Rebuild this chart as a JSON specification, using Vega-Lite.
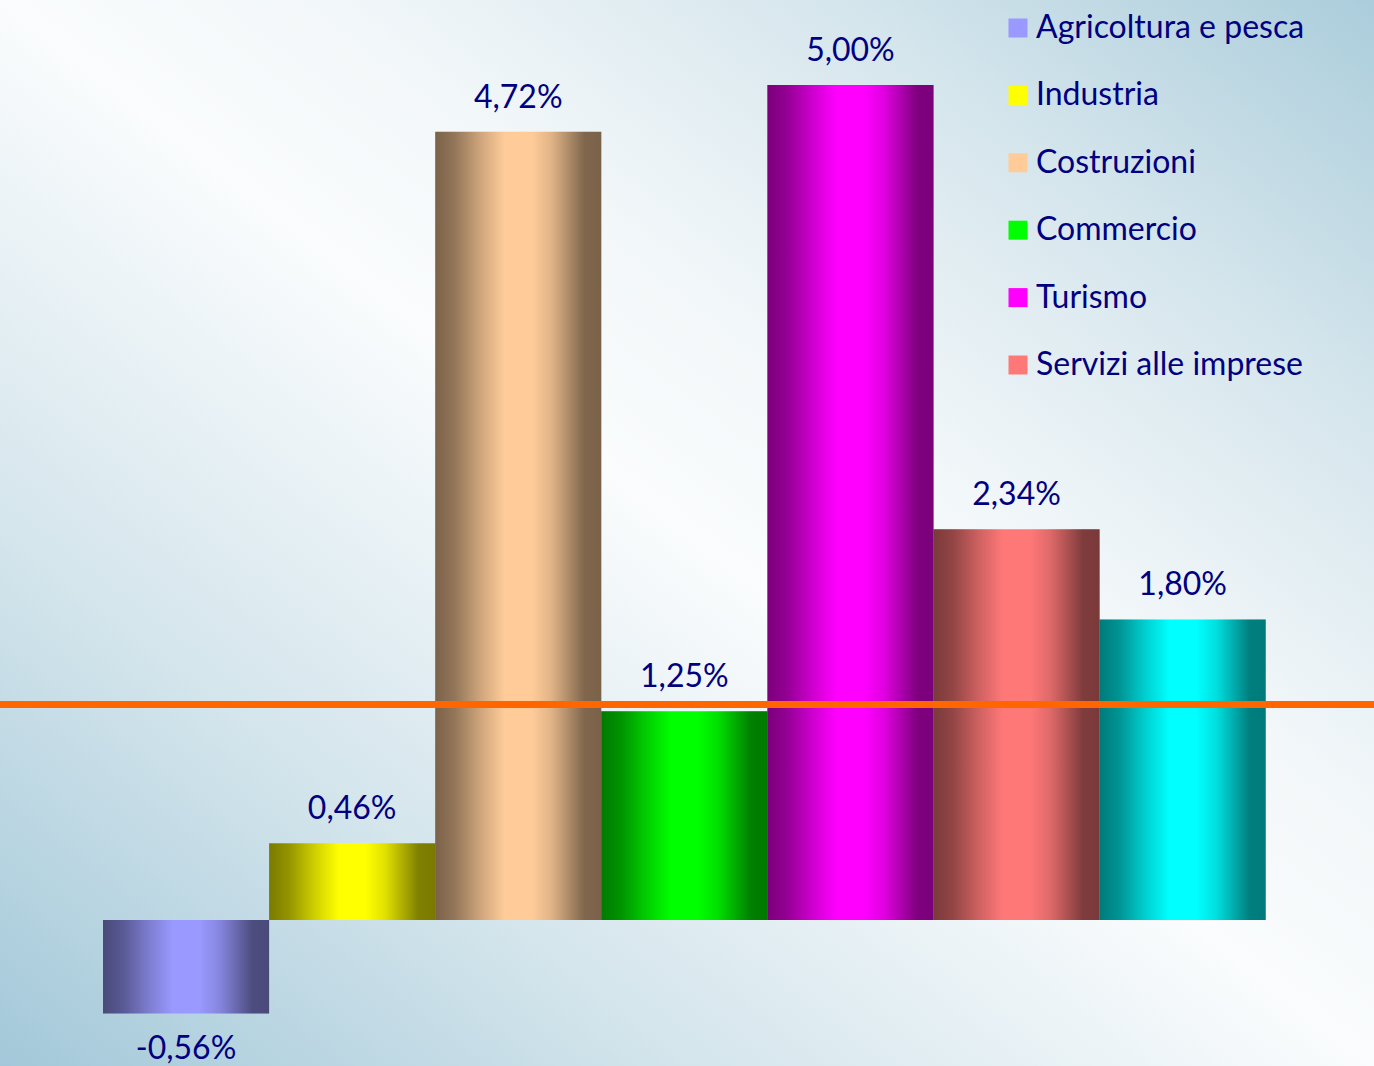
{
  "$schema": "https://vega.github.io/schema/vega-lite/v6.json",
  "width": 1374,
  "height": 1066,
  "padding": 0,
  "autosize": {"type": "none"},
  "background": "#ffffff",
  "view": {
    "stroke": null,
    "fill": {
      "gradient": "linear",
      "x1": 0, "y1": 1, "x2": 1, "y2": 0,
      "stops": [
        {"offset": 0, "color": "#a3c8d9"},
        {"offset": 0.25, "color": "#d4e5ec"},
        {"offset": 0.5, "color": "#fafcfd"},
        {"offset": 0.62, "color": "#f2f7f9"},
        {"offset": 0.8, "color": "#d6e6ed"},
        {"offset": 1, "color": "#abcddb"}
      ]
    }
  },
  "config": {
    "locale": {"number": {"decimal": ",", "thousands": ".", "grouping": [3], "currency": ["€", ""], "minus": "-"}},
    "font": "Lato"
  },
  "data": {
    "values": [
      {"settore": "Agricoltura e pesca", "variazione": -0.0056},
      {"settore": "Industria", "variazione": 0.0046},
      {"settore": "Costruzioni", "variazione": 0.0472},
      {"settore": "Commercio", "variazione": 0.0125},
      {"settore": "Turismo", "variazione": 0.05},
      {"settore": "Servizi alle imprese", "variazione": 0.0234},
      {"settore": "Altri servizi", "variazione": 0.018}
    ]
  },
  "encoding": {
    "x": {
      "field": "settore",
      "type": "nominal",
      "sort": null,
      "axis": null,
      "scale": {"paddingInner": 0, "paddingOuter": 0.636, "align": 0.4875}
    },
    "y": {
      "field": "variazione",
      "type": "quantitative",
      "axis": null,
      "scale": {"domain": [-0.00874, 0.05509], "nice": false, "zero": false}
    }
  },
  "layer": [
    {
      "mark": {"type": "bar", "strokeWidth": 0},
      "encoding": {
        "color": {
          "field": "settore",
          "type": "nominal",
          "sort": null,
          "scale": {
            "domain": ["Agricoltura e pesca", "Industria", "Costruzioni", "Commercio", "Turismo", "Servizi alle imprese", "Altri servizi"],
            "range": ["#9999ff", "#ffff00", "#ffcc99", "#00ff00", "#ff00ff", "#ff7878", "#00ffff"]
          },
          "legend": {
            "values": ["Agricoltura e pesca", "Industria", "Costruzioni", "Commercio", "Turismo", "Servizi alle imprese"],
            "orient": "none",
            "legendX": 1002,
            "legendY": 12,
            "title": null,
            "padding": 0,
            "symbolType": "square",
            "symbolSize": 361,
            "symbolStrokeWidth": 0,
            "symbolOpacity": 1,
            "labelFont": "Lato",
            "labelFontSize": 32,
            "labelColor": "#000080",
            "labelOffset": 2,
            "labelLimit": 400,
            "rowPadding": 35.4
          }
        }
      }
    },
    {
      "mark": {
        "type": "bar",
        "strokeWidth": 0,
        "color": {
          "gradient": "linear",
          "x1": 0, "y1": 0, "x2": 1, "y2": 0,
          "stops": [
            {"offset": 0, "color": "rgba(0,0,0,0.52)"},
            {"offset": 0.12, "color": "rgba(0,0,0,0.42)"},
            {"offset": 0.28, "color": "rgba(0,0,0,0.18)"},
            {"offset": 0.42, "color": "rgba(0,0,0,0)"},
            {"offset": 0.58, "color": "rgba(0,0,0,0)"},
            {"offset": 0.7, "color": "rgba(0,0,0,0.12)"},
            {"offset": 0.82, "color": "rgba(0,0,0,0.35)"},
            {"offset": 0.9, "color": "rgba(0,0,0,0.5)"},
            {"offset": 1, "color": "rgba(0,0,0,0.52)"}
          ]
        }
      },
      "encoding": {}
    },
    {
      "mark": {"type": "rule", "color": "#ff6600", "strokeWidth": 7},
      "encoding": {
        "x": null,
        "y": {"datum": 0.0129}
      }
    },
    {
      "transform": [{"filter": "datum.variazione >= 0"}],
      "mark": {"type": "text", "baseline": "bottom", "dy": -17, "fontSize": 32, "color": "#000080", "font": "Lato"},
      "encoding": {
        "text": {"field": "variazione", "type": "quantitative", "format": ".2%"}
      }
    },
    {
      "transform": [{"filter": "datum.variazione < 0"}],
      "mark": {"type": "text", "baseline": "top", "dy": 20, "fontSize": 32, "color": "#000080", "font": "Lato"},
      "encoding": {
        "text": {"field": "variazione", "type": "quantitative", "format": ".2%"}
      }
    }
  ]
}
